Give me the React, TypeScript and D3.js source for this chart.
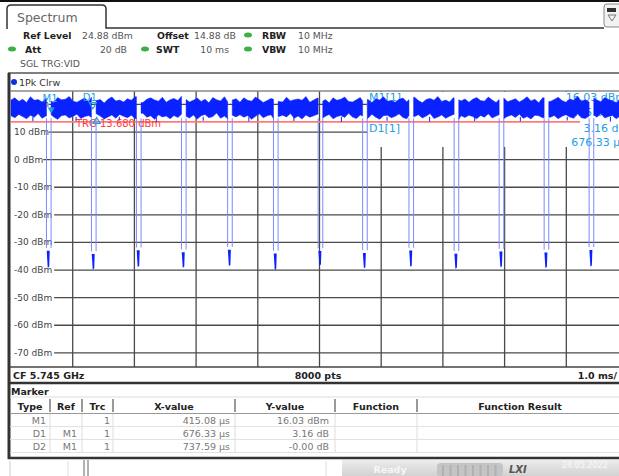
import React from 'react';
import * as d3 from 'd3';

const W = 619;
const H = 476;
const FONT = 'DejaVu Sans, Verdana, sans-serif';

// sweep: 10 divisions x 1.0 ms, display starts a little before the trigger
const SWEEP_START = -0.235;
const SWEEP_MS = 10;
const REF_LEVEL = 24.88;
const RANGE_DB = 100;
const LEVEL_TICKS = [20, 10, 0, -10, -20, -30, -40, -50, -60, -70];
const TRIGGER_LEVEL = 13.68;

// gaps in the burst train (ms) and how deep the trace falls there (dBm)
const dipTimes = [0.370, 1.099, 1.828, 2.558, 3.306, 4.049, 4.773, 5.494, 6.245, 6.977, 7.707, 8.436, 9.165];
const dipFloor = [-38.8, -39.4, -38.5, -38.8, -38.2, -39.6, -38.0, -39.0, -38.4, -39.2, -38.6, -38.9, -38.3];
const dipShoulder = [-33.0, -34.2, -32.8, -33.5, -32.6, -34.0, -33.1, -33.8, -32.9, -34.1, -33.3, -33.6, -32.7];

// upper / lower edge of the noisy burst level (dBm), evenly across the sweep
const bandTop = [
  21.6, 22.4, 21.1, 21.9, 20.7, 22.8, 21.5, 21.8, 20.9, 22.2,
  21.3, 20.6, 22.5, 21.7, 21.9, 22.9, 21.2, 20.8, 21.6, 22.3,
  21.0, 22.6, 21.4, 21.8, 20.5, 21.9, 22.7, 21.3, 21.6, 20.9,
  22.1, 21.5, 22.8, 21.1, 20.7, 21.9, 22.4, 21.6, 21.2, 22.6,
  20.8, 21.7, 22.2, 21.4, 23.0, 21.8, 20.9, 21.5, 22.3, 21.1,
  21.9, 20.6, 22.5, 21.7, 21.3, 22.8, 21.0, 21.6, 22.1, 20.8,
  22.4, 21.5, 21.2, 22.7, 21.8, 20.7, 21.4, 22.2, 21.9, 21.1,
  20.9, 22.6, 21.3, 21.7, 22.0, 21.5, 22.9, 20.8, 21.6, 22.3,
  21.2, 21.8, 20.6, 22.4, 21.5, 21.9, 22.7, 21.1, 20.9, 21.7,
  22.5, 21.3, 21.8, 20.7, 22.1, 21.6, 22.8, 21.2, 21.4, 20.8,
  21.9, 22.3, 21.0, 21.7, 22.6, 21.4, 20.6, 21.8, 22.2, 21.5,
  22.9, 21.1, 21.6, 20.9, 22.4, 21.7, 21.3, 22.0, 20.8, 21.9,
  22.5, 21.4, 21.2, 22.7, 21.6, 20.7, 21.8, 22.3, 21.0, 21.5,
  22.1, 20.9, 21.7, 22.8, 21.3, 21.9, 20.6, 22.4, 21.6, 21.1,
  21.8, 22.6, 21.4, 20.8, 22.0, 21.5, 22.9, 21.2, 21.7, 20.9,
  22.3, 21.6, 21.0, 22.5, 21.8, 21.3, 20.7, 22.2, 21.5, 21.9,
];
const bandBottom = [
  15.9, 15.2, 16.4, 15.6, 14.8, 16.1, 15.4, 16.7, 15.0, 15.8,
  16.3, 15.5, 14.6, 15.9, 16.2, 15.1, 15.7, 16.5, 14.9, 15.6,
  16.0, 15.3, 16.6, 15.8, 14.7, 15.5, 16.2, 15.0, 16.4, 15.7,
  15.2, 16.1, 14.9, 15.6, 16.8, 15.4, 15.9, 14.6, 16.3, 15.5,
  15.8, 14.8, 16.0, 15.3, 16.5, 15.7, 15.1, 16.2, 14.7, 15.9,
  16.4, 15.2, 15.6, 16.9, 15.0, 15.8, 14.8, 16.1, 15.5, 16.3,
  15.4, 16.0, 14.6, 15.7, 16.6, 15.2, 15.9, 16.3, 14.9, 15.6,
  16.1, 15.5, 16.7, 15.0, 15.8, 14.7, 16.2, 15.4, 15.9, 16.5,
  15.1, 15.7, 16.4, 14.8, 15.6, 16.0, 15.3, 16.8, 15.5, 14.9,
  16.2, 15.8, 15.0, 16.5, 15.4, 14.6, 15.9, 16.1, 15.2, 15.7,
  16.6, 15.3, 14.8, 16.0, 15.6, 16.3, 15.1, 15.8, 16.7, 14.9,
  15.5, 16.2, 15.0, 15.7, 16.4, 14.7, 15.9, 15.3, 16.1, 15.6,
  14.8, 16.0, 15.4, 16.6, 15.1, 15.8, 16.3, 14.9, 15.7, 16.2,
  15.3, 16.5, 15.0, 15.6, 14.7, 16.1, 15.9, 15.2, 16.8, 15.4,
  16.0, 14.8, 15.7, 16.3, 15.5, 15.0, 16.6, 15.2, 14.9, 15.8,
  16.2, 15.4, 16.7, 15.1, 15.6, 16.0, 14.8, 15.9, 16.4, 15.3,
];

// single-sample spikes below the band
const spikeTimes = [0.12, 0.82, 1.52, 2.12, 2.88, 3.62, 4.35, 5.12, 5.86, 6.55, 7.28, 8.02, 8.78, 9.48];
const spikeLevels = [14.0, 13.9, 14.2, 13.8, 14.1, 13.9, 14.0, 13.7, 14.1, 13.8, 14.0, 13.9, 14.2, 13.8];

// markers
const markerNames = ['M1', 'D1', 'D2'];
const markerRefs = ['', 'M1', 'M1'];
const markerTimesUs = [415.08, 676.33, 737.59];
const markerValues = ['16.03 dBm', '3.16 dB', '-0.00 dB'];
const M1_LEVEL = 16.03;
const deltaLevels = [0, 3.16, -0.0];

const tableColumns = ['Type', 'Ref', 'Trc', 'X-value', 'Y-value', 'Function', 'Function Result'];
const tableEdges = [10, 50, 82, 113, 235, 335, 417, 640];

const x = d3.scaleLinear().domain([SWEEP_START, SWEEP_START + SWEEP_MS]).range([11, 628]);
const y = d3.scaleLinear().domain([REF_LEVEL, REF_LEVEL - RANGE_DB]).range([91, 367]);

const BLUE = '#0a22ff';
const EDGE = '#7b8bff';
const MK = '#22a0e6';

type Sample = { t: number; hi: number; lo: number };

const samples: Sample[] = bandTop.map((hi, i) => ({
  t: SWEEP_START + (i * SWEEP_MS) / (bandTop.length - 1),
  hi,
  lo: bandBottom[i],
}));

const nearest = (t: number) => d3.least(samples, s => Math.abs(s.t - t))!;

const cuts = [SWEEP_START - 1, ...dipTimes, SWEEP_START + SWEEP_MS + 1];
const segments: Sample[][] = d3.pairs(cuts).map(([a, b], k) => {
  const t0 = k === 0 ? SWEEP_START : a + 0.045;
  const t1 = k === cuts.length - 2 ? SWEEP_START + SWEEP_MS : b - 0.03;
  const inner = samples.filter(s => s.t > t0 && s.t < t1);
  return [{ ...nearest(t0), t: t0 }, ...inner, { ...nearest(t1), t: t1 }];
});

const band = d3.area<Sample>()
  .x(d => x(d.t))
  .y0(d => y(d.lo))
  .y1(d => y(d.hi));

const usToMs = (us: number) => us / 1000;

export default function App() {
  const m1t = usToMs(markerTimesUs[0]);
  const mk = markerNames.map((name, i) => ({
    name,
    t: i === 0 ? m1t : m1t + usToMs(markerTimesUs[i]),
    level: M1_LEVEL + deltaLevels[i],
  }));

  const tri = (cx: number, tipY: number, down: boolean) => {
    const s = 3.5;
    return down
      ? `M${cx - s},${tipY - 6} L${cx + s},${tipY - 6} L${cx},${tipY} Z`
      : `M${cx - s},${tipY + 6} L${cx + s},${tipY + 6} L${cx},${tipY} Z`;
  };

  const gridX = d3.range(1, SWEEP_MS).map(k => x(SWEEP_START + k));
  const rowY = [420, 433, 446];

  return (
    <svg width={W} height={H} style={{ position: 'absolute', left: 0, top: 0, background: '#fff' }} fontFamily={FONT}>
      <rect width={W} height={H} fill="#fff" />
      <rect x={0} y={0} width={W} height={2} fill="#111" />

      {/* tab + header */}
      <path d="M7,29 L7,9 Q7,5 11,5 L102,5 Q106,5 106,9 L106,28 L604,28" fill="none" stroke="#333" strokeWidth={1.5} />
      <text x={17} y={17} fontSize={12.5} fill="#666" dominantBaseline="central">Spectrum</text>
      <rect x={604} y={4} width={20} height={23} rx={3} fill="#f2f2f2" stroke="#888" />
      <rect x={607} y={8} width={9} height={4} fill="#333" />
      <path d="M608,15 L616,15 L612,21 Z" fill="none" stroke="#777" />

      <g fontSize={9.3} dominantBaseline="central">
        <text x={23} y={35} fontWeight="bold" fill="#222">Ref Level</text>
        <text x={82} y={35} fill="#555">24.88 dBm</text>
        <text x={157} y={35} fontWeight="bold" fill="#222">Offset</text>
        <text x={194} y={35} fill="#555">14.88 dB</text>
        <text x={262} y={35} fontWeight="bold" fill="#222">RBW</text>
        <text x={298} y={35} fill="#555">10 MHz</text>
        <text x={25} y={49} fontWeight="bold" fill="#222">Att</text>
        <text x={127} y={49} fill="#555" textAnchor="end">20 dB</text>
        <text x={156} y={49} fontWeight="bold" fill="#222">SWT</text>
        <text x={229} y={49} fill="#555" textAnchor="end">10 ms</text>
        <text x={262} y={49} fontWeight="bold" fill="#222">VBW</text>
        <text x={298} y={49} fill="#555">10 MHz</text>
        <text x={20} y={63} fill="#555">SGL TRG:VID</text>
      </g>
      {[[248, 35], [12, 49], [145, 49], [248, 49]].map(([cx, cy], i) => (
        <ellipse key={i} cx={cx} cy={cy} rx={4} ry={2.5} fill="#3cb043" />
      ))}
      <line x1={8} x2={W} y1={73} y2={73} stroke="#555" strokeWidth={1.5} />

      {/* trace label row */}
      <circle cx={14} cy={82} r={3} fill="#1030e0" />
      <text x={19} y={82} fontSize={9.5} fill="#333" dominantBaseline="central">1Pk Clrw</text>

      {/* grid */}
      <g stroke="#4a4a4a" strokeWidth={1.3}>
        {gridX.map((gx, i) => (
          <line key={i} x1={gx} x2={gx} y1={91} y2={367} />
        ))}
        {LEVEL_TICKS.map(v => (
          <line key={v} x1={11} x2={628} y1={y(v)} y2={y(v)} />
        ))}
      </g>
      {LEVEL_TICKS.map(v => {
        const label = `${v} dBm`;
        return (
          <g key={v}>
            <rect x={11} y={y(v) - 5} width={label.length * 5.45 + 5} height={10} fill="#fff" />
            <text x={14} y={y(v)} fontSize={9} fill="#444" dominantBaseline="central">{label}</text>
          </g>
        );
      })}

      {/* marker info box */}
      <rect x={367} y={92} width={262} height={55} fill="#fff" />
      <g fontSize={11} fill={MK} dominantBaseline="central">
        <text x={369} y={97}>M1[1]</text>
        <text x={626} y={97} textAnchor="end">{markerValues[0]}</text>
        <text x={626} y={112} textAnchor="end">{`${markerTimesUs[0].toFixed(2)} µs`}</text>
        <text x={369} y={128}>D1[1]</text>
        <rect x={580} y={121} width={48} height={28} fill="#fff" />
        <text x={626} y={128} textAnchor="end">{markerValues[1]}</text>
        <text x={626} y={142} textAnchor="end">{`${markerTimesUs[1].toFixed(2)} µs`}</text>
      </g>

      {/* trigger level */}
      <line x1={11} x2={580} y1={y(TRIGGER_LEVEL)} y2={y(TRIGGER_LEVEL)} stroke="#ff7b7b" strokeWidth={1.6} />
      <text x={76} y={y(TRIGGER_LEVEL) + 1.5} fontSize={10} fill="#ff3b3b" dominantBaseline="central">
        TRG  13.680 dBm
      </text>

      {/* trace */}
      {dipTimes.map((t, i) => {
        const xl = x(t - 0.03);
        const xr = x(t + 0.045);
        const xc = x(t);
        return (
          <g key={i}>
            <line x1={xl} x2={xl} y1={y(15)} y2={y(dipShoulder[i] + 1)} stroke={EDGE} strokeWidth={1} />
            <line x1={xr} x2={xr} y1={y(15)} y2={y(dipShoulder[i] + 1)} stroke={EDGE} strokeWidth={1} />
            <path
              d={`M${xc - 1.6},${y(dipShoulder[i])} L${xc + 1.4},${y(dipShoulder[i])} L${xc + 0.9},${y(dipFloor[i])} L${xc - 0.6},${y(dipFloor[i]) + 1} Z`}
              fill={BLUE}
            />
          </g>
        );
      })}
      {segments.map((seg, i) => (
        <path key={i} d={band(seg) ?? ''} fill={BLUE} stroke={BLUE} strokeWidth={0.5} />
      ))}
      {spikeTimes.map((t, i) => (
        <line key={i} x1={x(t)} x2={x(t)} y1={y(15.5)} y2={y(spikeLevels[i])} stroke={BLUE} strokeWidth={1} />
      ))}

      {/* markers on trace */}
      <text x={x(mk[0].t) - 1} y={98} fontSize={10} fill={MK} textAnchor="middle" dominantBaseline="central">M1</text>
      <path d={tri(x(mk[0].t), y(mk[0].level) - 2, true)} fill={MK} />
      <text x={x(mk[1].t) - 3} y={97} fontSize={10} fill={MK} textAnchor="middle" dominantBaseline="central">D1</text>
      <path d={tri(x(mk[1].t), y(mk[1].level) + 2, true)} fill="none" stroke={MK} strokeWidth={1.2} />
      <path d={tri(x(mk[2].t), y(mk[2].level) + 2, false)} fill="none" stroke={MK} strokeWidth={1.2} />

      {/* frame */}
      <line x1={9} x2={9} y1={73} y2={459} stroke="#333" strokeWidth={3} />
      <line x1={10} x2={W} y1={91} y2={91} stroke="#888" strokeWidth={1.5} />
      <line x1={10} x2={W} y1={367} y2={367} stroke="#444" strokeWidth={1.5} />

      <g fontSize={9.5} fontWeight="bold" fill="#222" dominantBaseline="central">
        <text x={13} y={375}>CF 5.745 GHz</text>
        <text x={318} y={375} textAnchor="middle">8000 pts</text>
        <text x={617} y={375} textAnchor="end">1.0 ms/</text>
      </g>
      <line x1={10} x2={W} y1={383} y2={383} stroke="#333" strokeWidth={2.5} />

      {/* marker table */}
      <text x={11} y={391} fontSize={9.5} fontWeight="bold" fill="#222" dominantBaseline="central">Marker</text>
      <line x1={10} x2={W} y1={397} y2={397} stroke="#ddd" />
      <line x1={10} x2={W} y1={413.5} y2={413.5} stroke="#999" strokeWidth={1.2} />
      {tableColumns.map((c, i) => (
        <text
          key={c}
          x={(tableEdges[i] + Math.min(tableEdges[i + 1], 623)) / 2}
          y={406}
          fontSize={9.5}
          fontWeight="bold"
          fill="#222"
          textAnchor="middle"
          dominantBaseline="central"
        >
          {c}
        </text>
      ))}
      {tableEdges.slice(1, -1).map((e, i) => (
        <g key={i}>
          <line x1={e} x2={e} y1={399} y2={412} stroke="#555" strokeWidth={1.2} />
          <line x1={e} x2={e} y1={414} y2={453} stroke="#ddd" />
        </g>
      ))}
      {rowY.map((ry, i) => (
        <line key={i} x1={10} x2={W} y1={ry + 6.5} y2={ry + 6.5} stroke="#e2e2e2" />
      ))}
      <g fontSize={9.5} fill="#777" dominantBaseline="central" textAnchor="end">
        {markerNames.map((n, i) => (
          <g key={n}>
            <text x={46} y={rowY[i]}>{n}</text>
            <text x={77} y={rowY[i]}>{markerRefs[i]}</text>
            <text x={110} y={rowY[i]}>1</text>
            <text x={230} y={rowY[i]}>{`${markerTimesUs[i].toFixed(2)} µs`}</text>
            <text x={329} y={rowY[i]}>{markerValues[i]}</text>
          </g>
        ))}
      </g>
      <line x1={8} x2={W} y1={458} y2={458} stroke="#333" strokeWidth={2.5} />

      {/* status bar */}
      <defs>
        <linearGradient id="sb" x1="0" x2="0" y1="0" y2="1">
          <stop offset="0" stopColor="#ececec" />
          <stop offset="1" stopColor="#d2d2d2" />
        </linearGradient>
      </defs>
      <rect x={342} y={460} width={W - 342} height={16} fill="url(#sb)" />
      <line x1={10} x2={10} y1={461} y2={476} stroke="#ccc" />
      <line x1={68} x2={68} y1={461} y2={476} stroke="#ddd" />
      <line x1={84} x2={84} y1={460} y2={476} stroke="#666" />
      <line x1={88} x2={88} y1={460} y2={476} stroke="#666" />
      <line x1={326} x2={326} y1={461} y2={476} stroke="#ddd" />
      <text x={390} y={469} fontSize={9.5} fontWeight="bold" fill="#f6f6f6" textAnchor="middle" dominantBaseline="central">Ready</text>
      <rect x={437} y={463} width={66} height={14} rx={4} fill="#c4c4c4" />
      {d3.range(8).map(i => (
        <line key={i} x1={443 + i * 7.5} x2={443 + i * 7.5} y1={465} y2={476} stroke="#b0b0b0" strokeWidth={2} />
      ))}
      <text x={509} y={469} fontSize={10} fontWeight="bold" fontStyle="italic" fill="#555" dominantBaseline="central">LXI</text>
      <text x={562} y={465} fontSize={8} fill="#fafafa" dominantBaseline="central">24.05.2022</text>
    </svg>
  );
}
